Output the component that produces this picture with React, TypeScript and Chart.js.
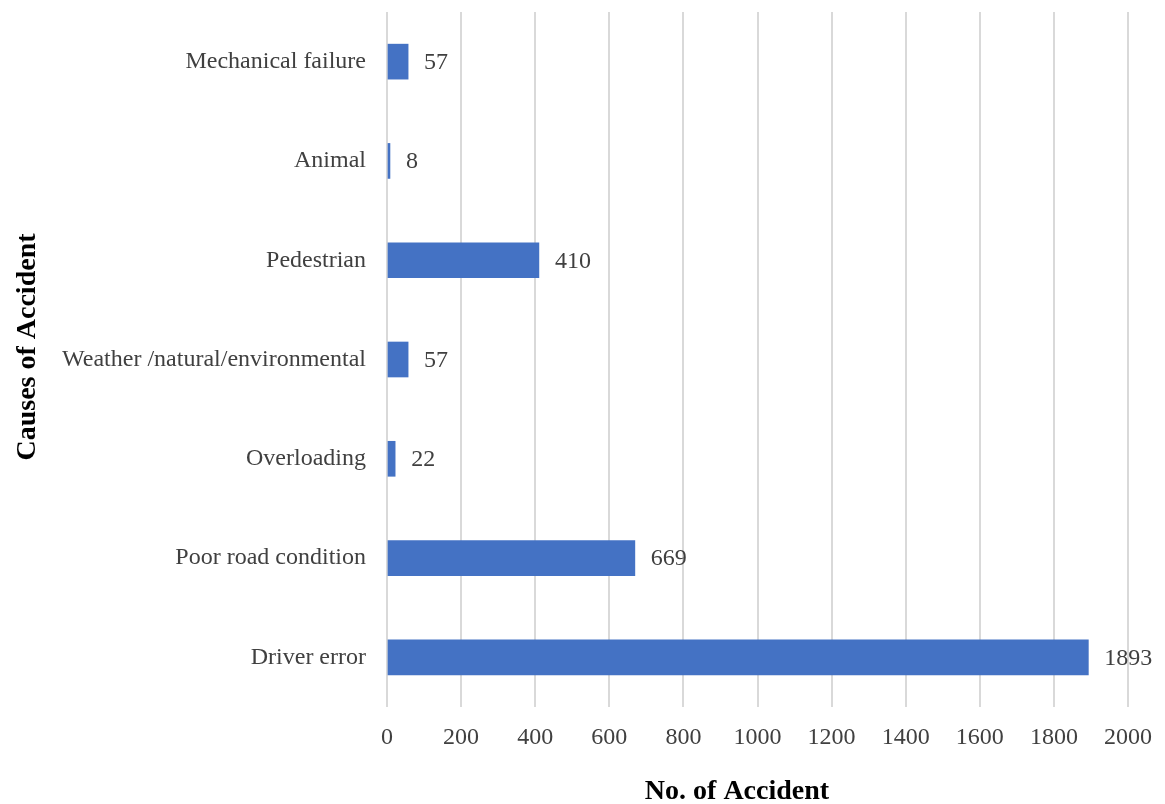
import React, { useEffect, useRef } from "react";
import { Chart, registerables } from "chart.js";

Chart.register(...registerables);

const categories = [
  "Mechanical failure",
  "Animal",
  "Pedestrian",
  "Weather /natural/environmental",
  "Overloading",
  "Poor road condition",
  "Driver error",
];
const accidents = [57, 8, 410, 57, 22, 669, 1893];
const xTitle = "No. of Accident";
const yTitle = "Causes of Accident";

const FONT = "'Liberation Serif', 'Times New Roman', serif";

const dataLabelPlugin = {
  id: "dataLabels",
  afterDatasetsDraw(chart: any) {
    const ctx = chart.ctx;
    const meta = chart.getDatasetMeta(0);
    ctx.save();
    ctx.font = `24px ${FONT}`;
    ctx.fillStyle = "#404040";
    ctx.textAlign = "left";
    ctx.textBaseline = "middle";
    meta.data.forEach((bar: any, i: number) => {
      ctx.fillText(String(chart.data.datasets[0].data[i]), bar.x + 16, bar.y + 1);
    });
    ctx.restore();
  },
};

const titlesPlugin = {
  id: "axisTitles",
  afterDraw(chart: any) {
    const ctx = chart.ctx;
    ctx.save();
    ctx.font = `bold 28px ${FONT}`;
    ctx.fillStyle = "#000";
    ctx.textAlign = "center";
    ctx.textBaseline = "middle";
    ctx.fillText(xTitle, 737, 792);
    ctx.translate(28, 347);
    ctx.rotate(-Math.PI / 2);
    ctx.fillText(yTitle, 0, 0);
    ctx.restore();
  },
};

export default function App() {
  const ref = useRef<HTMLCanvasElement>(null);
  useEffect(() => {
    document.body.style.margin = "0";
    const chart = new Chart(ref.current!, {
      type: "bar",
      data: {
        labels: categories,
        datasets: [
          {
            data: accidents,
            backgroundColor: "#4472C4",
            barThickness: 35,
          },
        ],
      },
      options: {
        indexAxis: "y",
        animation: false,
        responsive: false,
        maintainAspectRatio: false,
        layout: { padding: { top: 12, right: 37, bottom: 0, left: 0 } },
        plugins: { legend: { display: false }, tooltip: { enabled: false } },
        scales: {
          x: {
            min: 0,
            max: 2000,
            ticks: {
              stepSize: 200,
              color: "#404040",
              font: { family: FONT, size: 24 },
              padding: 16,
              callback: (v: any) => String(v),
            },
            grid: { color: "#d9d9d9", lineWidth: 2, drawTicks: false },
            border: { display: false },
            title: { display: false },
            afterFit(scale: any) {
              scale.height = 97;
              scale.paddingLeft = 0;
              scale.paddingRight = 0;
            },
          },
          y: {
            grid: { display: false, drawTicks: false },
            border: { display: false },
            ticks: {
              color: "#404040",
              font: { family: FONT, size: 24 },
              padding: 21,
            },
            title: { display: false },
            afterFit(scale: any) {
              scale.width = 387;
              scale.paddingTop = 0;
              scale.paddingBottom = 0;
            },
          },
        },
      },
      plugins: [dataLabelPlugin, titlesPlugin],
    });
    return () => chart.destroy();
  }, []);
  return <canvas ref={ref} width={1165} height={804} style={{ display: "block" }} />;
}
